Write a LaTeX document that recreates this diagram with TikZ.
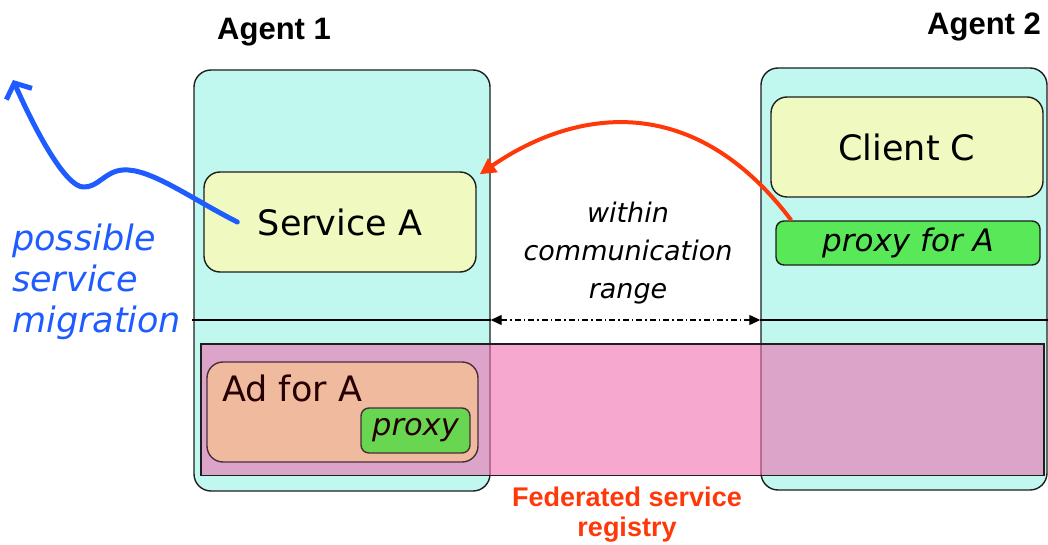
\documentclass[tikz,border=0pt]{standalone}
\usepackage{fontspec}
\setmainfont{DejaVu Sans}
\newfontfamily\arialfont{Liberation Sans}
\usetikzlibrary{arrows.meta}
\definecolor{agentfill}{RGB}{192,247,238}
\definecolor{yellowfill}{RGB}{240,250,192}
\definecolor{regpink}{RGB}{240,110,175}
\definecolor{adfill}{RGB}{240,186,158}
\definecolor{proxygreen}{RGB}{88,232,88}
\definecolor{smallgreen}{RGB}{104,214,80}
\definecolor{migblue}{RGB}{30,92,255}
\definecolor{callred}{RGB}{255,56,10}
\definecolor{edgegray}{RGB}{30,30,30}
\tikzset{
  agentbox/.style={draw=edgegray, line width=1.4pt, fill=agentfill, rounded corners=17pt, inner sep=0pt},
  compbox/.style={draw=edgegray, line width=1.4pt, fill=yellowfill, rounded corners=16pt, inner sep=0pt,
    font=\fontsize{35}{40}\selectfont},
  proxybox/.style={draw=edgegray, line width=1.4pt, fill=proxygreen, rounded corners=8pt, inner sep=0pt,
    font=\fontsize{31}{35}\selectfont\itshape},
  regbox/.style={draw=edgegray, line width=1.3pt, fill=regpink, fill opacity=0.6, inner sep=0pt},
  adbox/.style={draw=edgegray!80!regpink, line width=1.4pt, fill=adfill, rounded corners=16pt, inner sep=0pt},
  agentlabel/.style={font=\arialfont\bfseries\fontsize{31}{36}\selectfont, inner sep=0pt},
  divider/.style={draw=black, line width=1.3pt},
  rangearrow/.style={line width=1.3pt, dash pattern=on 6pt off 3pt on 1.5pt off 3pt,
    {Triangle[length=11pt,width=10pt]}-{Triangle[length=11pt,width=10pt]}},
  callarrow/.style={draw=callred, line width=4pt, -{Triangle[length=16pt,width=16pt]}},
  migarrow/.style={draw=migblue, line width=5pt, line cap=round, line join=round,
    -{Straight Barb[length=12pt,width=28pt,line width=5pt]}},
}
\begin{document}
\begin{tikzpicture}[x=1pt,y=-1pt]
\path[fill=white,use as bounding box] (0,0) rectangle (1048,545);

% agents
\node[agentbox, minimum width=296pt, minimum height=421pt] (agent1) at (342,280.5) {};
\node[agentbox, minimum width=286pt, minimum height=422pt] (agent2) at (904,279) {};
\node[agentlabel, anchor=base west] (a1label) at (217,40) {Agent 1};
\node[agentlabel, anchor=base west] (a2label) at (927,35) {Agent 2};

% components
\node[compbox, minimum width=272pt, minimum height=100pt] (serviceA) at (340,222) {Service A};
\node[compbox, minimum width=272pt, minimum height=100pt] (clientC) at (907,147) {Client C};
\node[proxybox, minimum width=264pt, minimum height=44pt] (proxyA) at (908,243) {proxy for A};

% divider line and range
\coordinate (lineL) at (192,320);
\coordinate (lineR) at (1048,320);
\draw[divider] (lineL) -- (agent1.east |- lineL);
\draw[divider] (agent2.west |- lineL) -- (lineR);
\draw[rangearrow] (agent1.east |- lineL) -- (agent2.west |- lineL);
\node[align=center, font=\fontsize{27}{38}\selectfont\itshape, inner sep=0pt] (range) at (628,253)
  {within\\communication\\range};

% registry
\node[regbox, minimum width=843pt, minimum height=131.5pt] (registry) at (622.5,409.75) {};
\node[adbox, minimum width=271pt, minimum height=100pt] (ad) at (342.5,412) {};
\node[anchor=base west, inner sep=0pt, font=\fontsize{35}{40}\selectfont, text=black!85!red] (adlabel) at (222,401) {Ad for A};
\node[proxybox, fill=smallgreen, draw=edgegray!80!regpink, text=black!85!red, font=\fontsize{30.5}{34}\selectfont\itshape,
  minimum width=109pt, minimum height=45pt] (proxysmall) at (415.5,430.5) {proxy};
\node[align=center, font=\arialfont\bfseries\fontsize{27}{30}\selectfont, text=callred, inner sep=0pt] (reglabel) at (627,514.5)
  {Federated service\\registry};

% migration
\node[align=left, anchor=west, font=\fontsize{35}{41}\selectfont\itshape, text=migblue, inner sep=0pt] (miglabel) at (12,281.5)
  {possible\\service\\migration};
\coordinate (migstart) at ([xshift=34pt]serviceA.west);
\coordinate (migend) at (13,80);
\draw[migarrow] (migstart) .. controls (190,198) and (150,168) .. (123,170)
  .. controls (105,171) and (98,188) .. (83,187)
  .. controls (65,186) and (35,130) .. (migend);

% call arrow
\draw[callarrow] ([xshift=16pt]proxyA.north west) .. controls (690,86) and (570,112) .. ([shift={(3,3)}]serviceA.north east);
\end{tikzpicture}
\end{document}
